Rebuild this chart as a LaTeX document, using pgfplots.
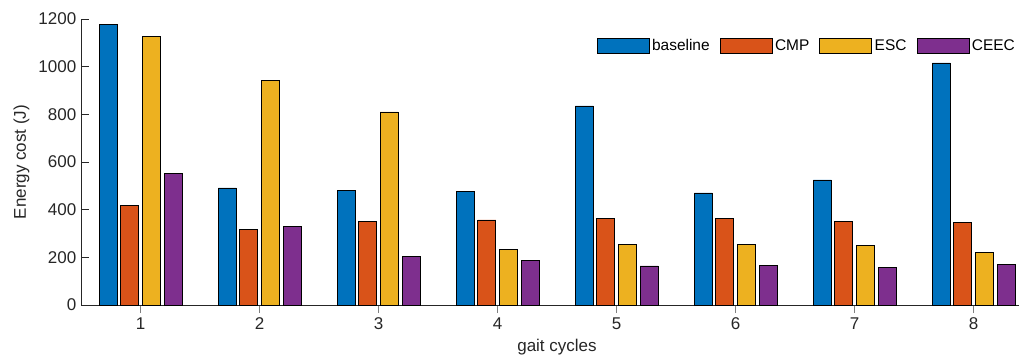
\documentclass[border=0pt]{standalone}
\usepackage{pgfplots}
\pgfplotsset{compat=1.18}
\usepackage{fontspec}
\setmainfont{Liberation Sans}
\definecolor{mblue}{RGB}{0,114,189}
\definecolor{morange}{RGB}{217,83,25}
\definecolor{myellow}{RGB}{237,177,32}
\definecolor{mpurple}{RGB}{126,47,142}
\definecolor{axgray}{RGB}{38,38,38}
\begin{document}
\begin{tikzpicture}
\useasboundingbox (0,0) rectangle (764.25pt,270.75pt);
\begin{axis}[
  at={(60.75pt,42pt)}, anchor=south west,
  width=714pt, height=214.5pt, scale only axis,
  xmin=0.5, xmax=8.5, ymin=0, ymax=1200,
  axis x line=bottom, axis y line=left,
  axis line style={-, draw=axgray, line width=0.6pt},
  xtick={1,2,3,4,5,6,7,8},
  ytick={0,200,400,600,800,1000,1200},
  tick align=inside,
  major tick length=6pt,
  xtick style={draw=gray, line width=0.6pt},
  ytick style={draw=axgray, line width=0.6pt},
  tick label style={font=\fontsize{12.75}{14}\selectfont, text=axgray},
  label style={font=\fontsize{12.75}{14}\selectfont, text=axgray},
  /pgf/number format/assume math mode=true,
  scaled y ticks=false,
  yticklabel style={/pgf/number format/1000 sep={}},
  xlabel={gait cycles},
  ylabel={Energy cost (J)},
  ybar, bar width=0.151,
  legend columns=4,
  legend style={at={(0.984,0.94)}, anchor=north east, draw=none, fill=none,
    font=\fontsize{11.6}{13}\selectfont, inner sep=0pt,
    /tikz/every even column/.append style={column sep=5.5pt}},
  legend image code/.code={\draw[#1,draw=black,line width=0.5pt] (0pt,-5.6pt) rectangle (39pt,5.6pt);},
]
\addplot[fill=mblue, draw=black, line width=0.5pt, bar shift=-0.27] coordinates {(1,1178) (2,491) (3,481) (4,476) (5,835) (6,470) (7,525) (8,1016)};
\addlegendentry{baseline}
\addplot[fill=morange, draw=black, line width=0.5pt, bar shift=-0.09] coordinates {(1,417) (2,317) (3,350) (4,357) (5,364) (6,364) (7,350) (8,347)};
\addlegendentry{CMP}
\addplot[fill=myellow, draw=black, line width=0.5pt, bar shift=0.09] coordinates {(1,1126) (2,942) (3,810) (4,232) (5,255) (6,253) (7,250) (8,222)};
\addlegendentry{ESC}
\addplot[fill=mpurple, draw=black, line width=0.5pt, bar shift=0.275] coordinates {(1,551) (2,329) (3,204) (4,188) (5,164) (6,165) (7,157) (8,172)};
\addlegendentry{CEEC}
\end{axis}
\end{tikzpicture}
\end{document}
